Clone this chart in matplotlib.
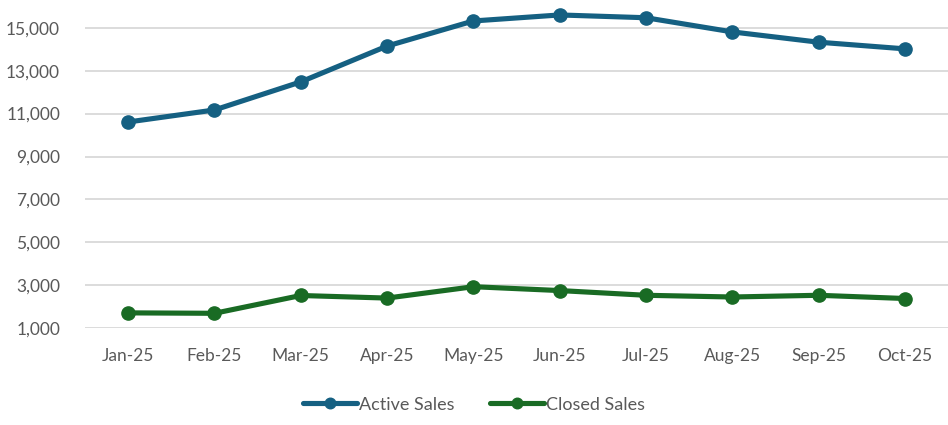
import matplotlib.pyplot as plt
from matplotlib.ticker import FuncFormatter

# data
months = ["Jan-25", "Feb-25", "Mar-25", "Apr-25", "May-25",
          "Jun-25", "Jul-25", "Aug-25", "Sep-25", "Oct-25"]
active_sales = [10610, 11170, 12480, 14150, 15320, 15600, 15470, 14810, 14330, 14020]
closed_sales = [1710, 1690, 2520, 2400, 2930, 2750, 2530, 2450, 2530, 2380]

plt.rcParams['font.family'] = ['Lato', 'DejaVu Sans']

fig = plt.figure(figsize=(9.48, 4.25), dpi=100)
ax = fig.add_axes([0.0897, 0.228, 0.9103, 0.757])

x = range(len(months))
ax.plot(x, active_sales, color="#156082", lw=3.7, marker="o", ms=9.5,
        label="Active Sales", solid_capstyle="round")
ax.plot(x, closed_sales, color="#196B24", lw=3.7, marker="o", ms=9.5,
        label="Closed Sales", solid_capstyle="round")

ax.set_xlim(-0.5, len(months) - 0.5)
ax.set_ylim(1000, 16000)
ax.set_yticks(range(1000, 16000, 2000))
ax.yaxis.set_major_formatter(FuncFormatter(lambda v, p: f"{int(v):,}"))
ax.set_xticks(list(x))
ax.set_xticklabels(months)

ax.grid(axis="y", color="#d9d9d9", lw=1.3)
ax.set_axisbelow(True)
for s in ax.spines.values():
    s.set_visible(False)
ax.tick_params(length=0, labelsize=12.5, colors="#595959", pad=14)
ax.tick_params(axis="y", pad=18)

leg = fig.legend(loc="center", bbox_to_anchor=(0.5, 0.048), ncol=2, frameon=False,
                 fontsize=13, handlelength=3.0, handletextpad=0.1, columnspacing=2.0,
                 markerscale=0.8)
for t in leg.get_texts():
    t.set_color("#595959")

fig.savefig("out.png", dpi=100)
